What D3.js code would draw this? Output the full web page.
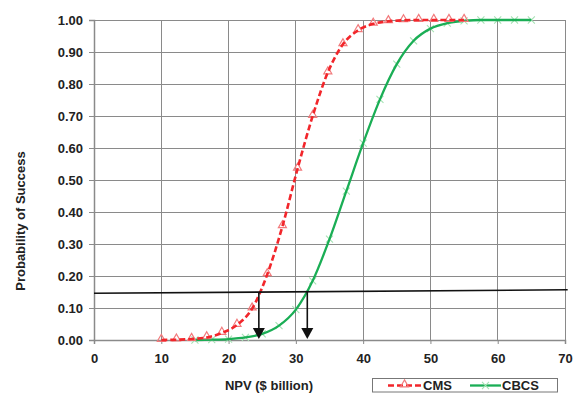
<!DOCTYPE html>
<html>
<head>
<meta charset="utf-8">
<script src="https://cdn.jsdelivr.net/npm/d3@7/dist/d3.min.js"></script>
<style>
  html, body { margin: 0; padding: 0; background: #fff; }
  svg { display: block; font-family: "Liberation Sans", Arial, sans-serif; }
</style>
</head>
<body>
<svg id="chart" width="577" height="393"></svg>
<script>
// NPV (x, $ billion) and probability of success for each development case
const cmsNpv = [10, 12.25, 14.5, 16.75, 19, 21.25, 23.5, 25.75, 28, 30.25, 32.5,
                34.75, 37, 39.25, 41.5, 43.75, 46, 48.25, 50.5, 52.75, 55];
const cmsProb = [0.000, 0.001, 0.003, 0.008, 0.022, 0.047, 0.098, 0.205, 0.355, 0.535, 0.700,
                 0.836, 0.924, 0.968, 0.988, 0.996, 0.999, 1.000, 1.000, 1.000, 1.000];

const cbcsNpv = [15, 17.5, 20, 22.5, 25, 27.5, 30, 32.5, 35, 37.5, 40,
                 42.5, 45, 47.5, 50, 52.5, 55, 57.5, 60, 62.5, 65];
const cbcsProb = [0.000, 0.001, 0.003, 0.008, 0.019, 0.045, 0.095, 0.185, 0.315, 0.465, 0.615,
                  0.752, 0.862, 0.935, 0.973, 0.990, 0.997, 1.000, 1.000, 1.000, 1.000];

const thresholdNpv = [0, 70.4];
const thresholdProb = [0.146, 0.157];
const crossingNpv = [24.5, 31.7];
const crossingProb = 0.15;

const xTicks = [0, 10, 20, 30, 40, 50, 60, 70];
const yTicks = [0, 0.1, 0.2, 0.3, 0.4, 0.5, 0.6, 0.7, 0.8, 0.9, 1.0];

const seriesNames = ["CMS", "CBCS"];

const svg = d3.select("#chart");
const x = d3.scaleLinear().domain([0, 70]).range([94, 565]);
const y = d3.scaleLinear().domain([0, 1]).range([340, 20]);

const textColor = "#222";
const gridColor = "#8a8a8a";
const red = "#f2262b";
const green = "#1aae55";

// Gridlines
svg.append("g").selectAll("line").data(yTicks.slice(1)).join("line")
  .attr("x1", x(0)).attr("x2", x(70))
  .attr("y1", d => y(d)).attr("y2", d => y(d))
  .attr("stroke", gridColor).attr("stroke-width", 1).attr("shape-rendering", "crispEdges");
svg.append("g").selectAll("line").data(xTicks.slice(1)).join("line")
  .attr("x1", d => x(d)).attr("x2", d => x(d))
  .attr("y1", y(0)).attr("y2", y(1))
  .attr("stroke", gridColor).attr("stroke-width", 1).attr("shape-rendering", "crispEdges");

// Axes
const yAxis = d3.axisLeft(y).tickValues(yTicks).tickFormat(d3.format(".2f")).tickSize(5).tickPadding(6);
const gy = svg.append("g").attr("transform", `translate(${x(0)},0)`).call(yAxis);
const xAxis = d3.axisBottom(x).tickValues(xTicks).tickFormat(d3.format("d")).tickSize(4).tickPadding(10);
const gx = svg.append("g").attr("transform", `translate(0,${y(0)})`).call(xAxis);
[gx, gy].forEach(g => {
  g.select(".domain").attr("stroke", gridColor).attr("stroke-width", 1.5);
  g.selectAll(".tick line").attr("stroke", gridColor);
  g.selectAll(".tick text").attr("fill", textColor)
    .style("font-size", "13px").style("font-weight", "bold")
    .style("font-family", "'Liberation Sans', Arial, sans-serif");
});

// Axis titles
svg.append("text").attr("x", 269).attr("y", 390)
  .attr("text-anchor", "middle").attr("fill", textColor)
  .style("font-size", "13px").style("font-weight", "bold")
  .text("NPV ($ billion)");
svg.append("text").attr("transform", "translate(25,221) rotate(-90)")
  .attr("text-anchor", "middle").attr("fill", textColor)
  .style("font-size", "13px").style("font-weight", "bold")
  .text("Probability of Success");

// Curves
const line = d3.line().x(d => x(d[0])).y(d => y(d[1])).curve(d3.curveMonotoneX);
const cmsData = d3.zip(cmsNpv, cmsProb);
const cbcsData = d3.zip(cbcsNpv, cbcsProb);

const triangle = d3.symbol().type(d3.symbolTriangle).size(28);
const cross = d3.symbol().type(d3.symbolX).size(34);

// CBCS markers and solid line
svg.append("g").selectAll("path").data(cbcsData).join("path")
  .attr("d", cross).attr("transform", d => `translate(${x(d[0])},${y(d[1])})`)
  .attr("fill", "none").attr("stroke", "#a6e2b4").attr("stroke-width", 1.1);
svg.append("path").datum(cbcsData).attr("d", line)
  .attr("fill", "none").attr("stroke", green).attr("stroke-width", 2.3);

// CMS markers and dashed line
svg.append("g").selectAll("path").data(cmsData).join("path")
  .attr("d", triangle).attr("transform", d => `translate(${x(d[0])},${y(d[1]) - 1})`)
  .attr("fill", "none").attr("stroke", "#f27a7c").attr("stroke-width", 1.2);
svg.append("path").datum(cmsData).attr("d", line)
  .attr("fill", "none").attr("stroke", red).attr("stroke-width", 2.6)
  .attr("stroke-dasharray", "6,3");

// Threshold line
svg.append("line")
  .attr("x1", x(thresholdNpv[0])).attr("y1", y(thresholdProb[0]))
  .attr("x2", x(thresholdNpv[1])).attr("y2", y(thresholdProb[1]))
  .attr("stroke", "#111").attr("stroke-width", 1.6);

// Arrows dropping to the NPV axis
const arrows = svg.append("g").selectAll("g").data(crossingNpv).join("g");
arrows.append("line")
  .attr("x1", d => x(d)).attr("x2", d => x(d))
  .attr("y1", y(crossingProb)).attr("y2", y(0) - 9)
  .attr("stroke", "#111").attr("stroke-width", 1.6);
arrows.append("path")
  .attr("d", d => {
    const cx = x(d), tip = y(0) - 1;
    return `M${cx - 6},${tip - 11}L${cx + 6},${tip - 11}L${cx},${tip}Z`;
  })
  .attr("fill", "#111");

// Legend
const legend = svg.append("g");
legend.append("rect").attr("x", 372.5).attr("y", 378.5).attr("width", 185).attr("height", 13.5)
  .attr("fill", "#fff").attr("stroke", "#777").attr("stroke-width", 1);
const ly = 385.5;
legend.append("line").attr("x1", 388).attr("x2", 421).attr("y1", ly).attr("y2", ly)
  .attr("stroke", red).attr("stroke-width", 2.6).attr("stroke-dasharray", "6,3");
legend.append("path").attr("d", triangle).attr("transform", `translate(404.5,${ly - 1})`)
  .attr("fill", "none").attr("stroke", "#f27a7c").attr("stroke-width", 1.2);
legend.append("line").attr("x1", 470).attr("x2", 501).attr("y1", ly).attr("y2", ly)
  .attr("stroke", green).attr("stroke-width", 2.3);
legend.append("path").attr("d", cross).attr("transform", `translate(485.5,${ly})`)
  .attr("fill", "none").attr("stroke", "#a6e2b4").attr("stroke-width", 1.1);
legend.selectAll("text").data(seriesNames).join("text")
  .attr("x", (d, i) => i === 0 ? 423 : 502).attr("y", ly + 4.5)
  .attr("fill", textColor).style("font-size", "13px").style("font-weight", "bold")
  .text(d => d);
</script>
</body>
</html>
